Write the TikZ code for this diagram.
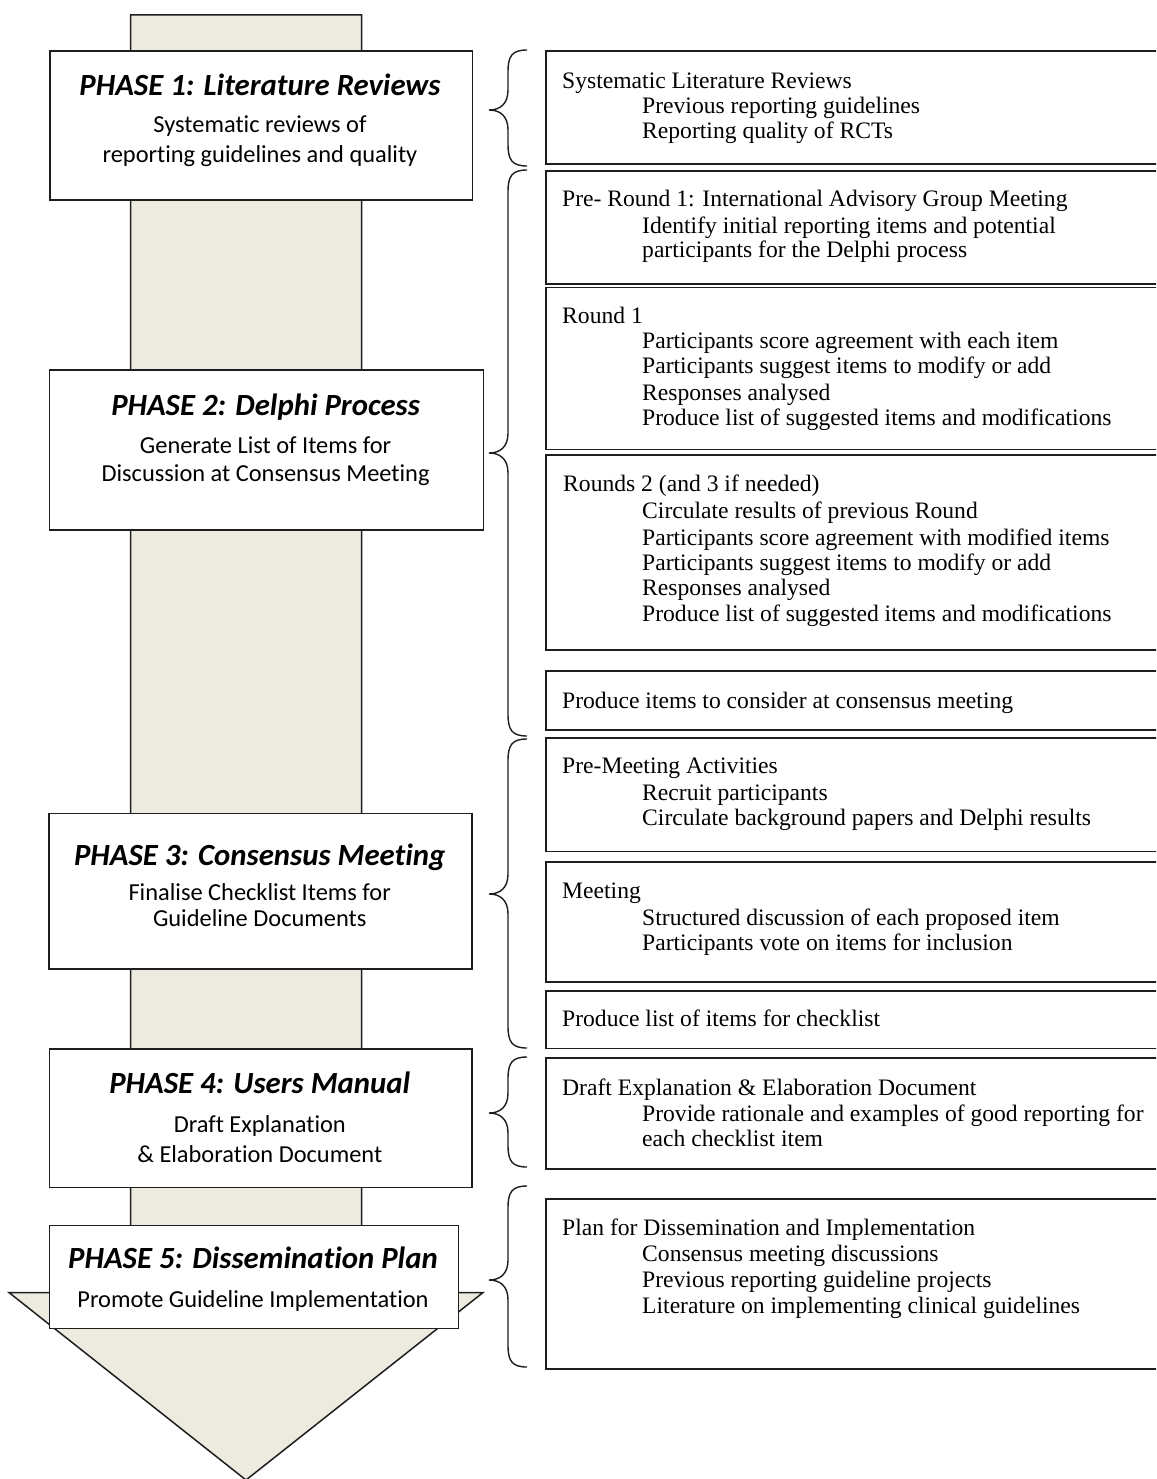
\documentclass[tikz,border=0pt]{standalone}
\usepackage{fontspec}
\setmainfont{Liberation Serif}
\newfontfamily\calfont[Ligatures=NoCommon]{Carlito}
\definecolor{shaftfill}{RGB}{237,234,224}
\definecolor{ink}{RGB}{30,30,30}
\tikzset{
 phasebox/.style={draw=ink, line width=1.6pt, fill=white, anchor=north west, inner sep=0pt, minimum width=#1},
 infobox/.style={draw=ink, line width=1.6pt, fill=white, anchor=north west, inner sep=0pt, minimum width=617pt},
 ttltxt/.style={font=\calfont\bfseries\itshape\fontsize{30.8}{32}\selectfont, anchor=base, inner sep=0pt},
 subtxt/.style={font=\calfont\fontsize{24.4}{26}\selectfont, anchor=base, inner sep=0pt},
 headtxt/.style={font=\fontsize{23.6}{26}\selectfont, anchor=base west, inner sep=0pt},
 bracestyle/.style={draw=ink, line width=1.4pt},
}
\newcommand\phbrace[3]{%
 \draw[bracestyle] (527,#1) .. controls (512,#1) and (508,{#1+6}) .. (508,{#1+22})
  -- (508,{#2-20}) .. controls (508,{#2-6}) and (500,#2) .. (489,#2)
  .. controls (500,#2) and (508,{#2+6}) .. (508,{#2+20})
  -- (508,{#3-22}) .. controls (508,{#3-6}) and (512,#3) .. (527,#3);}
\begin{document}
\begin{tikzpicture}[x=1pt,y=-1pt]
\clip (0,0) rectangle (1156,1479);
\fill[white] (0,0) rectangle (1156,1479);
% big arrow
\draw[fill=shaftfill, draw=ink, line width=1.5pt, line join=miter]
 (130.6,15) -- (361.5,15) -- (361.5,1292.7) -- (482.8,1292.7) -- (246,1480)
 -- (9.2,1292.7) -- (130.6,1292.7) -- cycle;
% phase boxes
\node[phasebox=422.7pt, minimum height=149.3pt] (p1) at (49,50) {};
\node[ttltxt] (p1t) at (260,96) {PHASE 1: Literature Reviews};
\node[subtxt] (p1a) at (260,132.7) {Systematic reviews of};
\node[subtxt] (p1b) at (260,163) {reporting guidelines and quality};

\node[phasebox=434.3pt, minimum height=159.7pt] (p2) at (48.5,369.3) {};
\node[ttltxt] (p2t) at (265.6,415) {PHASE 2: Delphi Process};
\node[subtxt] (p2a) at (265.6,453) {Generate List of Items for};
\node[subtxt] (p2b) at (265.6,481.7) {Discussion at Consensus Meeting};

\node[phasebox=422.7pt, minimum height=155.6pt] (p3) at (48.3,812.7) {};
\node[ttltxt] (p3t) at (259.7,865.7) {PHASE 3: Consensus Meeting};
\node[subtxt] (p3a) at (259.7,900) {Finalise Checklist Items for};
\node[subtxt] (p3b) at (259.7,926.7) {Guideline Documents};

\node[phasebox=422.5pt, minimum height=138.4pt] (p4) at (48.5,1048.3) {};
\node[ttltxt] (p4t) at (259.8,1093.8) {PHASE 4: Users Manual};
\node[subtxt] (p4a) at (259.8,1132.7) {Draft Explanation};
\node[subtxt] (p4b) at (259.8,1162) {\& Elaboration Document};

\node[phasebox=409.1pt, minimum height=103pt] (p5) at (48.5,1224.7) {};
\node[ttltxt] (p5t) at (253,1268.3) {PHASE 5: Dissemination Plan};
\node[subtxt] (p5a) at (253,1307.3) {Promote Guideline Implementation};

% braces
\phbrace{50}{110}{166}
\phbrace{170}{453}{736}
\phbrace{739}{894}{1048}
\phbrace{1057}{1113}{1167}
\phbrace{1186}{1280}{1367}

% right boxes
\node[infobox, minimum height=113pt] (r1) at (545,50) {};
\node[headtxt] (r1a) at (562,88.3) {Systematic Literature Reviews};
\node[headtxt] (r1b) at (642,114) {Previous reporting guidelines};
\node[headtxt] (r1c) at (642,139) {Reporting quality of RCTs};

\node[infobox, minimum height=113pt] (r2) at (545,170) {};
\node[headtxt] (r2a) at (562,206.7) {Pre- Round 1: International Advisory Group Meeting};
\node[headtxt] (r2b) at (642,233.3) {Identify initial reporting items and potential};
\node[headtxt] (r2c) at (642,258) {participants for the Delphi process};

\node[infobox, minimum height=162pt] (r3) at (545,286.5) {};
\node[headtxt] (r3a) at (562,323.3) {Round 1};
\node[headtxt] (r3b) at (642,348.3) {Participants score agreement with each item};
\node[headtxt] (r3c) at (642,373.3) {Participants suggest items to modify or add};
\node[headtxt] (r3d) at (642,400) {Responses analysed};
\node[headtxt] (r3e) at (642,425) {Produce list of suggested items and modifications};

\node[infobox, minimum height=195.3pt] (r4) at (545,454) {};
\node[headtxt] (r4a) at (563,491.7) {Rounds 2 (and 3 if needed)};
\node[headtxt] (r4b) at (642,518.3) {Circulate results of previous Round};
\node[headtxt] (r4c) at (642,545) {Participants score agreement with modified items};
\node[headtxt] (r4d) at (642,570) {Participants suggest items to modify or add};
\node[headtxt] (r4e) at (642,595) {Responses analysed};
\node[headtxt] (r4f) at (642,621.7) {Produce list of suggested items and modifications};

\node[infobox, minimum height=59.3pt] (r5) at (545,670) {};
\node[headtxt] (r5a) at (562,708.3) {Produce items to consider at consensus meeting};

\node[infobox, minimum height=113.5pt] (r6) at (545,737) {};
\node[headtxt] (r6a) at (562,773.3) {Pre-Meeting Activities};
\node[headtxt] (r6b) at (642,800) {Recruit participants};
\node[headtxt] (r6c) at (642,825) {Circulate background papers and Delphi results};

\node[infobox, minimum height=120pt] (r7) at (545,861) {};
\node[headtxt] (r7a) at (562,898.3) {Meeting};
\node[headtxt] (r7b) at (642,925) {Structured discussion of each proposed item};
\node[headtxt] (r7c) at (642,950) {Participants vote on items for inclusion};

\node[infobox, minimum height=57.5pt] (r8) at (545,990) {};
\node[headtxt] (r8a) at (562,1026.7) {Produce list of items for checklist};

\node[infobox, minimum height=111pt] (r9) at (545,1057) {};
\node[headtxt] (r9a) at (562,1095) {Draft Explanation \& Elaboration Document};
\node[headtxt] (r9b) at (642,1121.7) {Provide rationale and examples of good reporting for};
\node[headtxt] (r9c) at (642,1146.7) {each checklist item};

\node[infobox, minimum height=170pt] (r10) at (545,1198) {};
\node[headtxt] (r10a) at (562,1235) {Plan for Dissemination and Implementation};
\node[headtxt] (r10b) at (642,1261.7) {Consensus meeting discussions};
\node[headtxt] (r10c) at (642,1287.7) {Previous reporting guideline projects};
\node[headtxt] (r10d) at (642,1313.3) {Literature on implementing clinical guidelines};
\end{tikzpicture}
\end{document}
